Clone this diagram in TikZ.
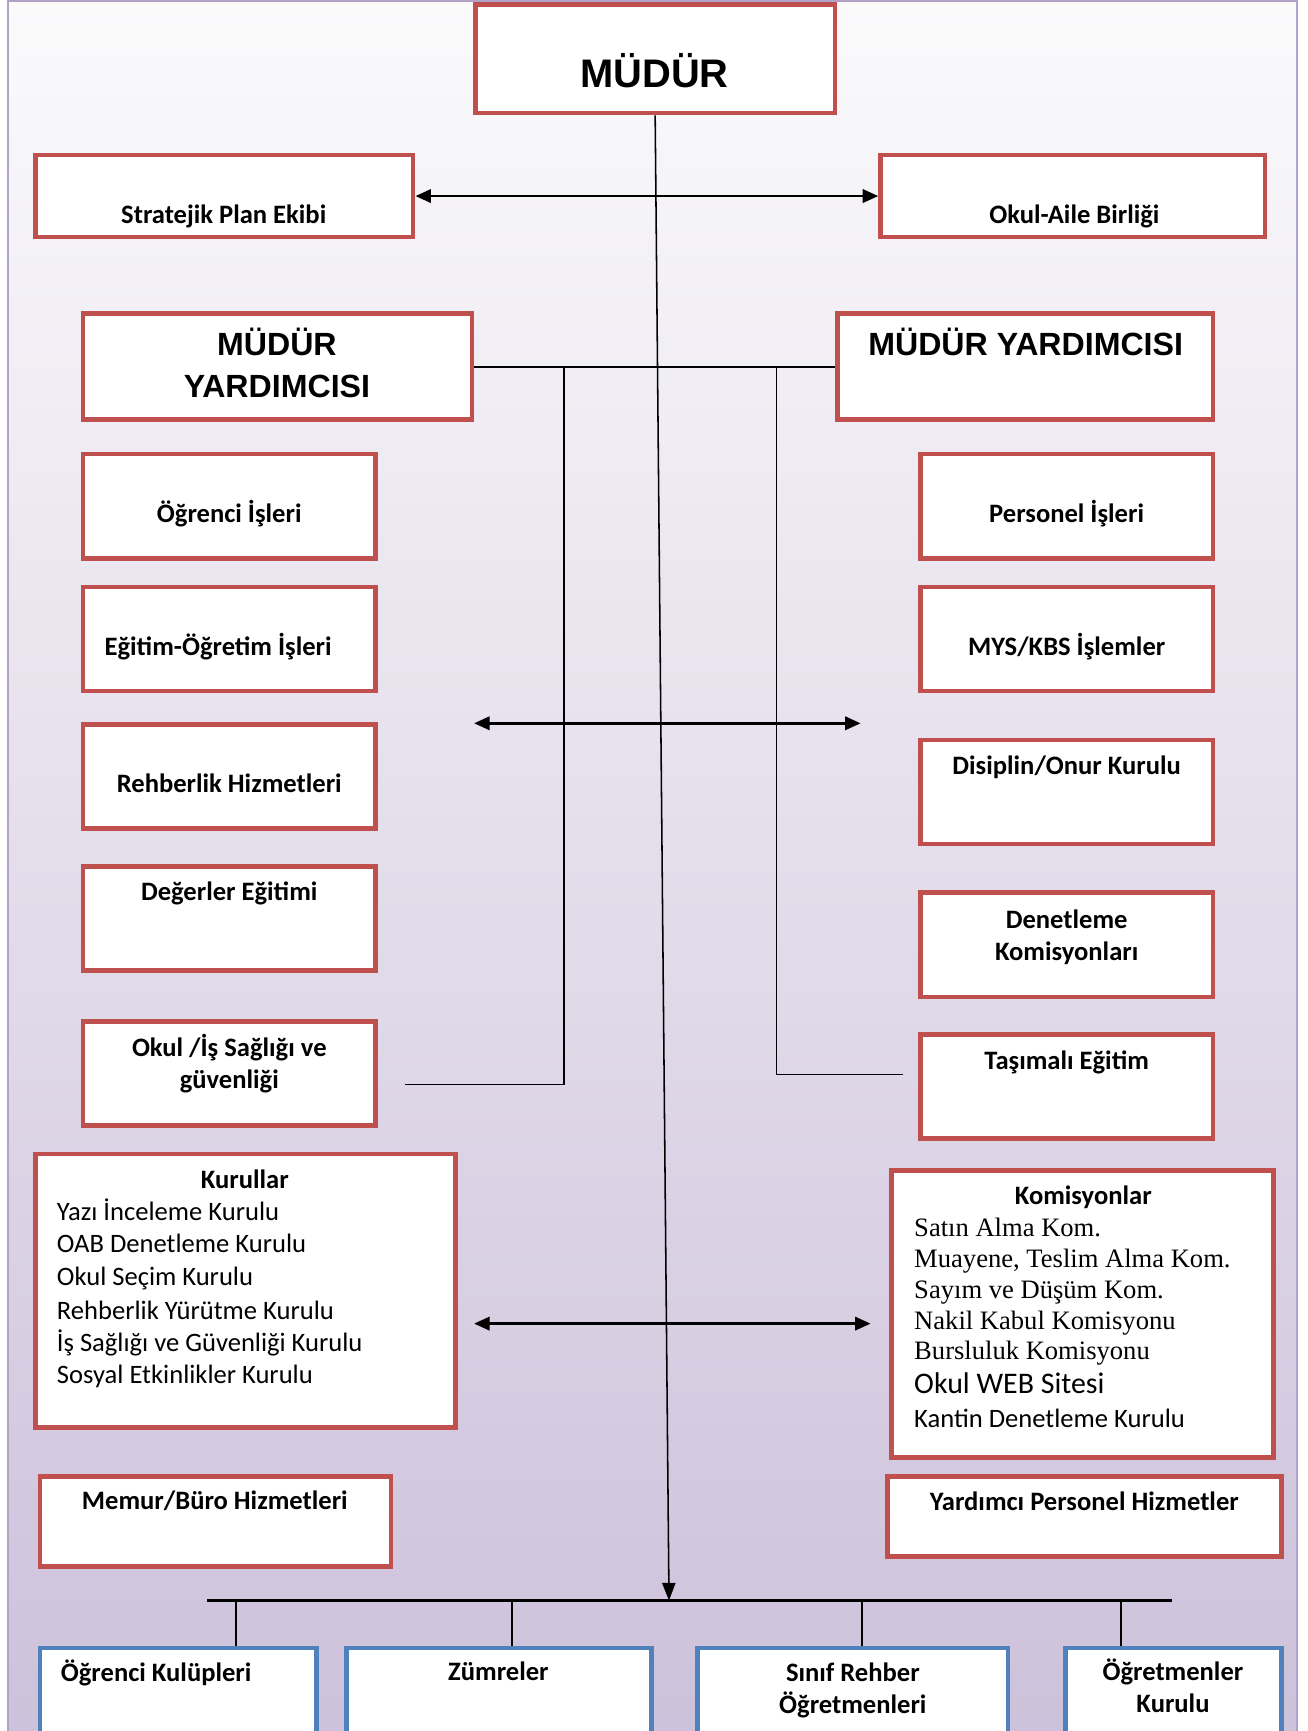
\documentclass[tikz,border=0pt]{standalone}
\usepackage{fontspec}
\setmainfont{Carlito}
\newfontfamily\arialfont{Liberation Sans}
\newfontfamily\timesfont{Liberation Serif}
\usetikzlibrary{fit,arrows.meta}
\definecolor{boxred}{HTML}{C0504D}
\definecolor{boxblue}{HTML}{4F81BD}
\definecolor{pageline}{HTML}{B3A2C7}
\definecolor{lavtop}{HTML}{FAFAFB}
\definecolor{lavmid}{HTML}{E8E3EE}
\definecolor{lavbot}{HTML}{CCC0DA}
\tikzset{
  redbox/.style={draw=boxred, line width=2.1pt, fill=white, inner sep=0pt},
  bluebox/.style={draw=boxblue, line width=2.1pt, fill=white, inner sep=0pt},
  lbl/.style={font=\bfseries\fontsize{12}{14.5}\selectfont, align=center, inner sep=0pt},
  big/.style={font=\arialfont\bfseries\fontsize{14.5}{19}\selectfont, align=center, inner sep=0pt},
  item/.style={font=\fontsize{12}{14.5}\selectfont, anchor=base west, inner sep=0pt},
  titem/.style={font=\timesfont\fontsize{12}{14.5}\selectfont, anchor=base west, inner sep=0pt},
  dbl/.style={{Triangle[length=7pt,width=6pt]}-{Triangle[length=7pt,width=6pt]}, line width=1.2pt},
  thin/.style={line width=0.7pt},
}
\begin{document}
\begin{tikzpicture}[x=0.5pt,y=-0.5pt]
  \path[use as bounding box] (0,0) rectangle (1180,1562.8);
  \clip (0,0) rectangle (1180,1562.8);
  % page
  \shade[top color=lavtop, middle color=lavmid, bottom color=lavbot] (7,1) rectangle (1171,1600);
  \draw[pageline, line width=1pt] (7,1600) -- (7,1) -- (1171,1) -- (1171,1600);

  % top
  \node[redbox, fit={(429,4) (754,102)}] (mudur) {};
  \node[font=\arialfont\bfseries\fontsize{18}{22}\selectfont, inner sep=0pt] (mudurT) at (591,64) {MÜDÜR};
  \node[redbox, fit={(32,140) (373,214)}] (spe) {};
  \node[lbl] (speT) at (202,195) {Stratejik Plan Ekibi};
  \node[redbox, fit={(795,140) (1142,214)}] (oab) {};
  \node[lbl] (oabT) at (970,195) {Okul-Aile Birliği};

  % mudur yardimcilari
  \node[redbox, fit={(75,283) (426,379)}] (myl) {};
  \node[big] (mylT) at (250,328) {MÜDÜR\\YARDIMCISI};
  \node[redbox, fit={(756,283) (1095,379)}] (myr) {};
  \node[big] (myrT) at (926,309) {MÜDÜR YARDIMCISI};

  % left column
  \node[redbox, fit={(75,410) (339,504)}] (ogr) {};
  \node[lbl] (ogrT) at (207,464) {Öğrenci İşleri};
  \node[redbox, fit={(75,530) (339,624)}] (egt) {};
  \node[lbl] (egtT) at (197,584) {Eğitim-Öğretim İşleri};
  \node[redbox, fit={(75,654) (339,748)}] (reh) {};
  \node[lbl] (rehT) at (207,707) {Rehberlik Hizmetleri};
  \node[redbox, fit={(75,782) (339,876)}] (deg) {};
  \node[lbl] (degT) at (207,807) {Değerler Eğitimi};
  \node[redbox, fit={(75,922) (339,1016)}] (isg) {};
  \node[lbl] (isgT) at (207,960) {Okul /İş Sağlığı ve\\güvenliği};

  % right column
  \node[redbox, fit={(831,410) (1095,504)}] (per) {};
  \node[lbl] (perT) at (963,464) {Personel İşleri};
  \node[redbox, fit={(831,530) (1095,624)}] (mys) {};
  \node[lbl] (mysT) at (963,584) {MYS/KBS İşlemler};
  \node[redbox, fit={(831,668) (1095,762)}] (dis) {};
  \node[lbl] (disT) at (963,693) {Disiplin/Onur Kurulu};
  \node[redbox, fit={(831,806) (1095,900)}] (den) {};
  \node[lbl] (denT) at (963,846) {Denetleme\\Komisyonları};
  \node[redbox, fit={(831,934) (1095,1028)}] (tas) {};
  \node[lbl] (tasT) at (963,959) {Taşımalı Eğitim};

  % kurullar
  \node[redbox, fit={(32,1042) (411,1289)}] (kur) {};
  \node[lbl] (kurT) at (221,1065) {Kurullar};
  \node[item] (kur1) at (51,1102) {Yazı İnceleme Kurulu};
  \node[item] (kur2) at (51,1131) {OAB Denetleme Kurulu};
  \node[item] (kur3) at (51,1161) {Okul Seçim Kurulu};
  \node[item] (kur4) at (51,1191) {Rehberlik Yürütme Kurulu};
  \node[item] (kur5) at (51,1220) {İş Sağlığı ve Güvenliği Kurulu};
  \node[item] (kur6) at (51,1249) {Sosyal Etkinlikler Kurulu};

  % komisyonlar
  \node[redbox, fit={(805,1057) (1150,1316)}] (kom) {};
  \node[lbl] (komT) at (978,1081) {Komisyonlar};
  \node[titem] (kom1) at (825,1116) {Satın Alma Kom.};
  \node[titem] (kom2) at (825,1144) {Muayene, Teslim Alma Kom.};
  \node[titem] (kom3) at (825,1172) {Sayım ve Düşüm Kom.};
  \node[titem] (kom4) at (825,1200) {Nakil Kabul Komisyonu};
  \node[titem] (kom5) at (825,1227) {Bursluluk Komisyonu};
  \node[item, font=\fontsize{13.5}{16}\selectfont] (kom6) at (825,1258) {Okul WEB Sitesi};
  \node[item] (kom7) at (825,1289) {Kantin Denetleme Kurulu};

  \node[redbox, fit={(36,1333) (353,1414)}] (mem) {};
  \node[lbl] (memT) at (194,1355) {Memur/Büro Hizmetleri};
  \node[redbox, fit={(801,1333) (1157,1405)}] (yrd) {};
  \node[lbl] (yrdT) at (979,1355) {Yardımcı Personel Hizmetler};

  % bottom row
  \node[bluebox, fit={(36,1488) (286,1600)}] (okl) {};
  \node[lbl] (oklT) at (141,1510) {Öğrenci Kulüpleri};
  \node[bluebox, fit={(313,1488) (588,1600)}] (zum) {};
  \node[lbl] (zumT) at (450,1509) {Zümreler};
  \node[bluebox, fit={(630,1488) (910,1600)}] (sin) {};
  \node[lbl] (sinT) at (770,1526) {Sınıf Rehber\\Öğretmenleri};
  \node[bluebox, fit={(962,1488) (1157,1600)}] (ogk) {};
  \node[lbl] (ogkT) at (1059,1522) {Öğretmenler\\Kurulu};

  % connectors
  \coordinate (bus) at (604,1445);
  \coordinate (busL) at (187,1445);
  \coordinate (busR) at (1058,1445);
  \draw[thin, -{Triangle[length=8pt,width=6pt]}] (mudur.south) -- (bus);
  \draw[dbl] (spe.east) -- (oab.west);
  \draw[line width=0.9pt] (myl.east) -- (myr.west);
  \coordinate (lsplit) at (509,331);
  \coordinate (lend) at (366,979);
  \coordinate (rsplit) at (701,331);
  \coordinate (rend) at (815,970);
  \draw[thin] (lsplit) |- (lend);
  \draw[thin] (rsplit) |- (rend);
  \coordinate (m1l) at (428,653);
  \coordinate (m1r) at (777,653);
  \draw[dbl] (m1l) -- (m1r);
  \coordinate (m2l) at (428,1195);
  \coordinate (m2r) at (786,1195);
  \draw[dbl] (m2l) -- (m2r);
  \draw[line width=1.1pt] (busL) -- (busR);
  \coordinate (t1) at (213,1445);
  \coordinate (t2) at (462,1445);
  \coordinate (t3) at (778,1445);
  \coordinate (t4) at (1012,1445);
  \draw[thin] (t1) -- (t1 |- okl.north);
  \draw[thin] (t2) -- (t2 |- zum.north);
  \draw[thin] (t3) -- (t3 |- sin.north);
  \draw[thin] (t4) -- (t4 |- ogk.north);
\end{tikzpicture}
\end{document}
